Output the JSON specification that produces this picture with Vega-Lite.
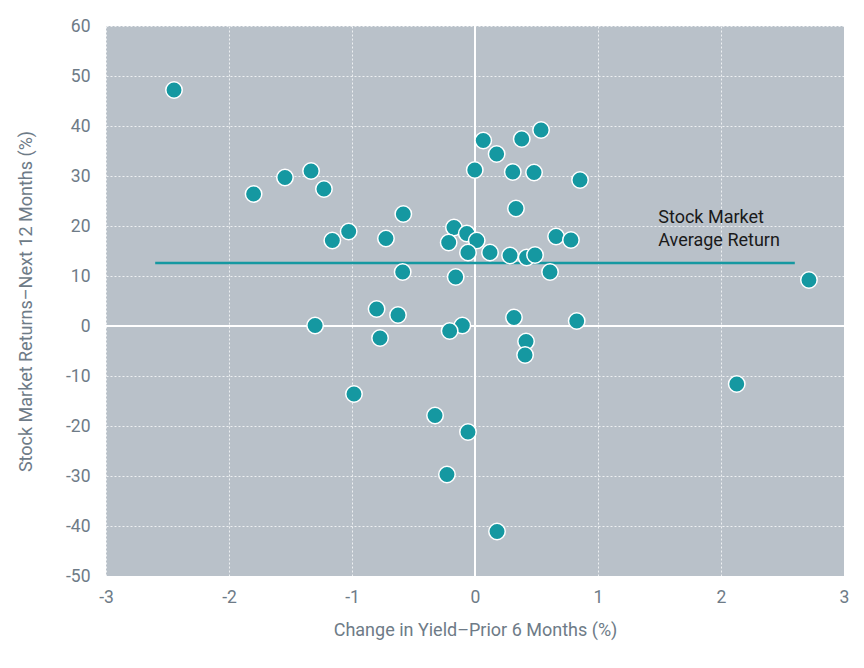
{
  "$schema": "https://vega.github.io/schema/vega-lite/v6.json",
  "width": 738,
  "height": 550,
  "autosize": {"type": "none"},
  "padding": {"left": 106, "top": 26, "right": 20, "bottom": 92},
  "background": "white",
  "config": {
    "view": {"fill": "#b9c1c9", "stroke": null},
    "font": "Roboto",
    "axis": {
      "domain": false,
      "ticks": false,
      "grid": true,
      "gridColor": "#ffffff",
      "gridDash": [2, 2],
      "gridOpacity": 0.75,
      "gridWidth": 1,
      "labelColor": "#6e7b87",
      "labelFont": "Roboto",
      "labelFontSize": 17.5,
      "labelFlush": false,
      "labelExpr": "datum.value < 0 ? '-' + abs(datum.value) : '' + datum.value",
      "titleColor": "#6e7b87",
      "titleFont": "Roboto",
      "titleFontSize": 18,
      "titleFontWeight": "normal"
    }
  },
  "datasets": {
    "pts": [
      {"x": -2.447, "y": 47.2}, {"x": -1.80, "y": 26.4}, {"x": -1.545, "y": 29.7},
      {"x": -1.333, "y": 31.0}, {"x": -1.228, "y": 27.4}, {"x": -1.16, "y": 17.1},
      {"x": -1.027, "y": 18.9}, {"x": -0.724, "y": 17.5}, {"x": -0.583, "y": 22.4},
      {"x": -0.588, "y": 10.8}, {"x": -0.171, "y": 19.7}, {"x": -0.067, "y": 18.5},
      {"x": 0.014, "y": 17.1}, {"x": -0.214, "y": 16.7}, {"x": -0.057, "y": 14.7},
      {"x": -0.157, "y": 9.8}, {"x": -0.002, "y": 31.2}, {"x": 0.067, "y": 37.1},
      {"x": 0.38, "y": 37.4}, {"x": 0.537, "y": 39.2}, {"x": 0.176, "y": 34.4},
      {"x": 0.307, "y": 30.8}, {"x": 0.48, "y": 30.7}, {"x": 0.854, "y": 29.2},
      {"x": 0.333, "y": 23.5}, {"x": 0.659, "y": 17.9}, {"x": 0.78, "y": 17.2},
      {"x": 0.122, "y": 14.7}, {"x": 0.285, "y": 14.1}, {"x": 0.42, "y": 13.7},
      {"x": 0.488, "y": 14.2}, {"x": 0.61, "y": 10.8}, {"x": 2.715, "y": 9.2},
      {"x": -1.30, "y": 0.1}, {"x": -0.80, "y": 3.4}, {"x": -0.626, "y": 2.2},
      {"x": -0.772, "y": -2.4}, {"x": -0.103, "y": 0.1}, {"x": -0.206, "y": -1.0},
      {"x": -0.984, "y": -13.6}, {"x": -0.325, "y": -17.9}, {"x": -0.057, "y": -21.2},
      {"x": -0.228, "y": -29.7}, {"x": 0.317, "y": 1.7}, {"x": 0.827, "y": 1.0},
      {"x": 0.415, "y": -3.1}, {"x": 0.407, "y": -5.8}, {"x": 2.128, "y": -11.6},
      {"x": 0.179, "y": -41.1}
    ]
  },
  "layer": [
    {
      "data": {"values": [{"x": 0}]},
      "mark": {"type": "rule", "color": "#ffffff", "strokeWidth": 2},
      "encoding": {
        "x": {"field": "x", "type": "quantitative", "scale": {"domain": [-3, 3]},
              "axis": {"values": [-3, -2, -1, 0, 1, 2, 3], "title": "Change in Yield\u2013Prior 6 Months (%)", "labelPadding": 12, "titlePadding": 16}}
      }
    },
    {
      "data": {"values": [{"y": 0}]},
      "mark": {"type": "rule", "color": "#ffffff", "strokeWidth": 2},
      "encoding": {
        "y": {"field": "y", "type": "quantitative", "scale": {"domain": [-50, 60]},
              "axis": {"values": [-50, -40, -30, -20, -10, 0, 10, 20, 30, 40, 50, 60], "title": "Stock Market Returns\u2013Next 12 Months (%)", "labelPadding": 16, "titlePadding": 30}}
      }
    },
    {
      "data": {"values": [{"x": -2.6, "x2": 2.6, "y": 12.6}]},
      "mark": {"type": "rule", "color": "#1598a1", "strokeWidth": 2.5},
      "encoding": {
        "x": {"field": "x", "type": "quantitative"},
        "x2": {"field": "x2"},
        "y": {"field": "y", "type": "quantitative"}
      }
    },
    {
      "data": {"name": "pts"},
      "mark": {"type": "point", "shape": "circle", "filled": true, "fill": "#1598a1", "stroke": "#ffffff", "strokeWidth": 1.5, "size": 270, "opacity": 1},
      "encoding": {
        "x": {"field": "x", "type": "quantitative"},
        "y": {"field": "y", "type": "quantitative"}
      }
    },
    {
      "data": {"values": [{"x": 1.49, "y": 20.6, "label": ["Stock Market", "Average Return"]}]},
      "mark": {"type": "text", "align": "left", "baseline": "alphabetic", "fontSize": 18, "lineHeight": 22.7, "color": "#1a1a1a", "font": "Roboto"},
      "encoding": {
        "x": {"field": "x", "type": "quantitative"},
        "y": {"field": "y", "type": "quantitative"},
        "text": {"field": "label"}
      }
    }
  ]
}
